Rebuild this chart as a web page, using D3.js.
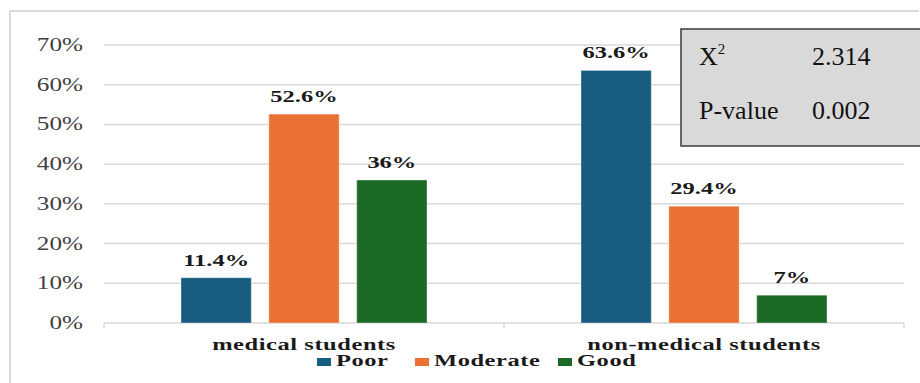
<!DOCTYPE html>
<html>
<head>
<meta charset="utf-8">
<script src="https://cdn.jsdelivr.net/npm/d3@7"></script>
<style>
  html, body { margin: 0; padding: 0; background: #fff; }
  svg { display: block; }
  svg text { font-family: 'Liberation Serif', 'Times New Roman', serif; }
</style>
</head>
<body>
<svg id="chart" width="920" height="383"></svg>
<script>
const categories = ['medical students', 'non-medical students'];
const seriesNames = ['Poor', 'Moderate', 'Good'];
const poorValues = [11.4, 63.6];
const moderateValues = [52.6, 29.4];
const goodValues = [36, 7];
const valueLabels = [['11.4%', '52.6%', '36%'], ['63.6%', '29.4%', '7%']];
const yTicks = [0, 10, 20, 30, 40, 50, 60, 70];
const statRows = [['X', '2', '2.314'], ['P-value', '', '0.002']];

const colors = ['#175d80', '#e97132', '#1b6a26'];
// the original picture is stretched sideways, so chart text gets widened
const stretch = 1.4;

const svg = d3.select('#chart');
const margin = { top: 45, right: 16, bottom: 60, left: 104 };
const width = 920, height = 383;
const innerWidth = width - margin.left - margin.right;   // 800
const innerHeight = height - margin.top - margin.bottom; // 278

const at = (x, y) => `translate(${x},${y}) scale(${stretch},1)`;

// outer frame
svg.append('path')
  .attr('d', 'M10,383 V11 H919')
  .attr('fill', 'none')
  .attr('stroke', '#d9d9d9')
  .attr('stroke-width', 2);

const g = svg.append('g').attr('transform', `translate(${margin.left},${margin.top})`);

const x0 = d3.scaleBand().domain(categories).range([0, innerWidth]);
const x1 = d3.scaleBand().domain(seriesNames).range([77, 323]).paddingInner(0.2);
const y = d3.scaleLinear().domain([0, 70]).range([innerHeight, 0]);

// gridlines
g.append('g')
  .selectAll('line')
  .data(yTicks.filter(d => d > 0))
  .join('line')
  .attr('x1', 0).attr('x2', innerWidth)
  .attr('y1', d => y(d)).attr('y2', d => y(d))
  .attr('stroke', '#d9d9d9')
  .attr('stroke-width', 1.5);

// y tick labels
g.append('g')
  .selectAll('text')
  .data(yTicks)
  .join('text')
  .attr('transform', d => at(-21, y(d) + 6))
  .attr('text-anchor', 'end')
  .style('font-size', '18px')
  .attr('fill', '#404040')
  .text(d => d + '%');

// x axis line with ticks
const xAxisG = g.append('g').attr('transform', `translate(0,${innerHeight})`);
xAxisG.append('line')
  .attr('x1', 0).attr('x2', innerWidth)
  .attr('stroke', '#d9d9d9').attr('stroke-width', 1.5);
xAxisG.selectAll('.tk')
  .data([0, x0.step(), innerWidth])
  .join('line')
  .attr('class', 'tk')
  .attr('x1', d => d).attr('x2', d => d)
  .attr('y1', 0).attr('y2', 5)
  .attr('stroke', '#d9d9d9').attr('stroke-width', 1.5);

xAxisG.selectAll('.cat')
  .data(categories)
  .join('text')
  .attr('class', 'cat')
  .attr('transform', d => at(x0(d) + x0.bandwidth() / 2, 27))
  .attr('text-anchor', 'middle')
  .style('font-weight', 'bold')
  .style('font-size', '17.5px')
  .style('letter-spacing', '0.4px')
  .attr('fill', '#1a1a1a')
  .text(d => d);

// bars
const seriesValues = [poorValues, moderateValues, goodValues];
const barData = (c, ci) => seriesNames.map((s, si) => ({ s, si, v: seriesValues[si][ci], label: valueLabels[ci][si] }));
const groups = g.selectAll('.grp')
  .data(categories)
  .join('g')
  .attr('class', 'grp')
  .attr('transform', d => `translate(${x0(d)},0)`);

groups.selectAll('rect')
  .data(barData)
  .join('rect')
  .attr('x', d => x1(d.s))
  .attr('y', d => y(d.v))
  .attr('width', x1.bandwidth())
  .attr('height', d => innerHeight - y(d.v))
  .attr('fill', d => colors[d.si])
  .attr('stroke', 'rgba(255,255,255,0.35)')
  .attr('stroke-width', 1);

groups.selectAll('.vl')
  .data(barData)
  .join('text')
  .attr('class', 'vl')
  .attr('transform', d => at(x1(d.s) + x1.bandwidth() / 2, y(d.v) - 12))
  .attr('text-anchor', 'middle')
  .style('font-weight', 'bold')
  .style('font-size', '17.5px')
  .attr('fill', '#1a1a1a')
  .text(d => d.label);

// legend
const legendX = [317, 415, 558];
const legend = svg.append('g').attr('transform', 'translate(0,366)');
const li = legend.selectAll('g')
  .data(seriesNames)
  .join('g')
  .attr('transform', (d, i) => `translate(${legendX[i]},0)`);
li.append('rect')
  .attr('x', 0).attr('y', -8)
  .attr('width', 14).attr('height', 8)
  .attr('fill', (d, i) => colors[i]);
li.append('text')
  .attr('transform', at(19, 0))
  .style('font-weight', 'bold')
  .style('font-size', '17.5px')
  .style('letter-spacing', '0.4px')
  .attr('fill', '#1a1a1a')
  .text(d => d);

// stats box
const box = svg.append('g');
box.append('rect')
  .attr('x', 681).attr('y', 29)
  .attr('width', 250).attr('height', 117)
  .attr('fill', '#d9d9d9')
  .attr('stroke', '#3a3a3a')
  .attr('stroke-width', 1.5);
const rows = box.selectAll('.row')
  .data(statRows)
  .join('g')
  .attr('class', 'row')
  .attr('transform', (d, i) => `translate(0,${65 + i * 54})`);
const lab = rows.append('text')
  .attr('x', 699)
  .style('font-size', '26px')
  .attr('fill', '#111');
lab.append('tspan').text(d => d[0]);
lab.append('tspan')
  .attr('dy', -11)
  .style('font-size', '15px')
  .text(d => d[1]);
rows.append('text')
  .attr('x', 812)
  .style('font-size', '26px')
  .attr('fill', '#111')
  .text(d => d[2]);
</script>
</body>
</html>
